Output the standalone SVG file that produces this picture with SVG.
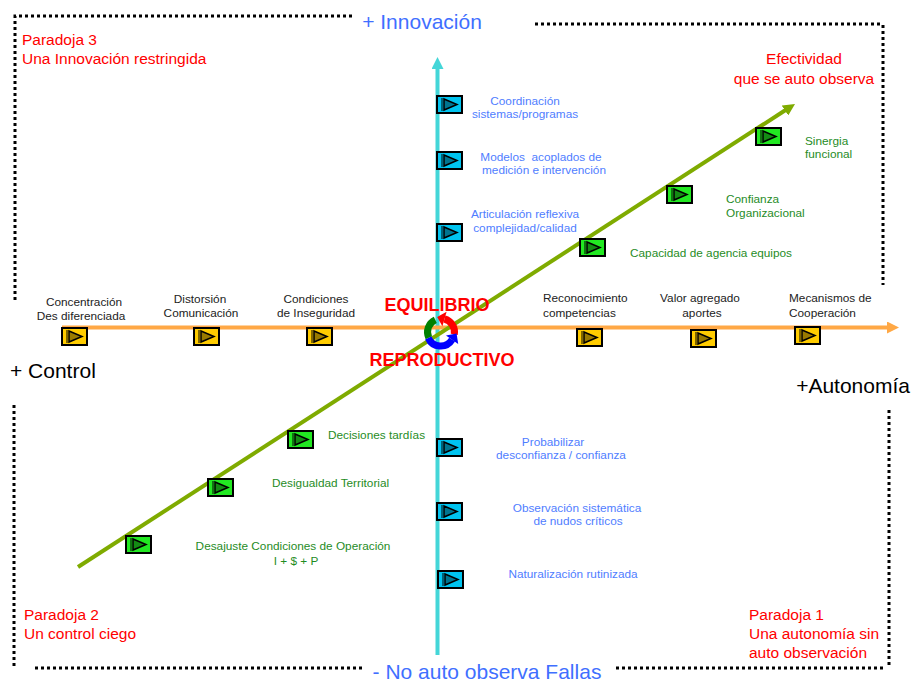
<svg xmlns="http://www.w3.org/2000/svg" width="912" height="683" viewBox="0 0 912 683">
<style>
text{font-family:"Liberation Sans",Arial,sans-serif}
.ax{font-size:21px}
.red{fill:#ff0000;font-size:15.5px}
.bl{fill:#4f7dff;font-size:11.8px;text-anchor:middle}
.bk{fill:#222;font-size:11.8px;text-anchor:middle}
.bks{fill:#222;font-size:11.8px;text-anchor:start}
.gr{fill:#1f8c1f;font-size:11.8px}
.grm{fill:#1f8c1f;font-size:11.8px;text-anchor:middle}
.dot{stroke:#000;stroke-width:3;stroke-dasharray:3 3;fill:none}
.eq{fill:#ff0000;font-size:18px;font-weight:bold;text-anchor:middle}
</style>
<defs>
<symbol id="ic" viewBox="0 0 25 17" width="25" height="17" overflow="visible">
<rect x="0" y="0" width="25" height="17" stroke="#000" stroke-width="2"/>
<line x1="5" y1="2" x2="5" y2="15" stroke="#000" stroke-width="1"/>
<polygon points="7,3 20,8.5 7,14" fill="#000" fill-opacity="0.4" stroke="#000" stroke-width="1.5"/>
</symbol>
<marker id="mc" viewBox="0 0 12 12" markerWidth="12" markerHeight="12" markerUnits="userSpaceOnUse" refX="4" refY="6" orient="auto"><path d="M0,0L12,6L0,12z" fill="#44d6d8"/></marker>
<marker id="mo" viewBox="0 0 12 12" markerWidth="12" markerHeight="12" markerUnits="userSpaceOnUse" refX="4" refY="6" orient="auto"><path d="M0,0L12,6L0,12z" fill="#ffa845"/></marker>
<marker id="mg" viewBox="0 0 12 12" markerWidth="12" markerHeight="12" markerUnits="userSpaceOnUse" refX="4" refY="6" orient="auto"><path d="M0,0L12,6L0,12z" fill="#7fab00"/></marker>
</defs>
<rect width="912" height="683" fill="#fff"/>

<g id="borders">
<path class="dot" d="M352,16H15V300"/>
<path class="dot" d="M535,24H880M883,25V285"/>
<path class="dot" d="M14,405V668M35,668H363"/>
<path class="dot" d="M616,668H886M889,410V668"/>
</g>

<g id="axis-labels">
<text class="ax" x="422" y="29" text-anchor="middle" fill="#3f6fff">+ Innovación</text>
<text class="ax" x="10" y="378" fill="#000">+ Control</text>
<text class="ax" x="910" y="393" text-anchor="end" fill="#000">+Autonomía</text>
<text class="ax" x="487" y="679" text-anchor="middle" fill="#3f6fff">- No auto observa Fallas</text>
</g>

<g id="paradoxes">
<text class="red" x="22" y="45" font-size="16.5">Paradoja 3</text>
<text class="red" x="22" y="64" font-size="16.5">Una Innovación restringida</text>
<text class="red" x="804" y="64" text-anchor="middle" font-size="16">Efectividad</text>
<text class="red" x="804" y="84" text-anchor="middle" font-size="16">que se auto observa</text>
<text class="red" x="24" y="620">Paradoja 2</text>
<text class="red" x="24" y="639">Un control ciego</text>
<text class="red" x="749" y="620">Paradoja 1</text>
<text class="red" x="749" y="639">Una autonomía sin</text>
<text class="red" x="749" y="658">auto observación</text>
</g>

<g id="connectors">
<line x1="437.5" y1="655" x2="437.5" y2="65" stroke="#44d6d8" stroke-width="4" marker-end="url(#mc)"/>
<line x1="62" y1="327.5" x2="891" y2="327.5" stroke="#ffa845" stroke-width="4" marker-end="url(#mo)"/>
<line x1="78" y1="567" x2="788.3" y2="108.3" stroke="#7fab00" stroke-width="4" marker-end="url(#mg)"/>
</g>

<g id="center">
<path d="M435.3,319.8A13.5,13.5 0 0 0 428.8,337.7" fill="none" stroke="#008000" stroke-width="7"/>
<path d="M454.3,334.3A13.5,13.5 0 0 0 444.5,319" fill="none" stroke="#ff0000" stroke-width="7"/>
<polygon points="437.2,317 446.6,311.8 442.4,326.2" fill="#ff0000"/>
<path d="M428.3,338A13.5,13.5 0 0 0 452.1,339.7" fill="none" stroke="#0000ff" stroke-width="7"/>
<polygon points="456.6,333.4 458.2,344 446,335.4" fill="#0000ff"/>
<text class="eq" x="437" y="311">EQUILIBRIO</text>
<text class="eq" x="442" y="366">REPRODUCTIVO</text>
</g>

<g id="n-coordinacion" fill="#00c4f0">
<use href="#ic" x="437" y="96"/>
<text class="bl" x="525" y="105">Coordinación</text>
<text class="bl" x="525" y="118">sistemas/programas</text>
</g>
<g id="n-modelos" fill="#00c4f0">
<use href="#ic" x="437" y="152"/>
<text class="bl" x="541" y="161" xml:space="preserve">Modelos  acoplados de</text>
<text class="bl" x="544" y="174">medición e intervención</text>
</g>
<g id="n-articulacion" fill="#00c4f0">
<use href="#ic" x="437" y="224"/>
<text class="bl" x="525" y="218">Articulación reflexiva</text>
<text class="bl" x="525" y="232">complejidad/calidad</text>
</g>
<g id="n-probabilizar" fill="#00c4f0">
<use href="#ic" x="437" y="439"/>
<text class="bl" x="553" y="446">Probabilizar</text>
<text class="bl" x="561" y="459">desconfianza / confianza</text>
</g>
<g id="n-observacion" fill="#00c4f0">
<use href="#ic" x="437" y="503"/>
<text class="bl" x="577" y="512">Observación sistemática</text>
<text class="bl" x="578" y="525">de nudos críticos</text>
</g>
<g id="n-naturalizacion" fill="#00c4f0">
<use href="#ic" x="438" y="571"/>
<text class="bl" x="573" y="578">Naturalización rutinizada</text>
</g>

<g id="n-concentracion" fill="#ffcc00">
<use href="#ic" x="62" y="328"/>
<text class="bk" x="84" y="306">Concentración</text>
<text class="bk" x="81" y="320">Des diferenciada</text>
</g>
<g id="n-distorsion" fill="#ffcc00">
<use href="#ic" x="194" y="328"/>
<text class="bk" x="200" y="303">Distorsión</text>
<text class="bk" x="201" y="317">Comunicación</text>
</g>
<g id="n-condiciones" fill="#ffcc00">
<use href="#ic" x="307" y="328"/>
<text class="bk" x="316" y="303">Condiciones</text>
<text class="bk" x="316" y="317">de Inseguridad</text>
</g>
<g id="n-reconocimiento" fill="#ffcc00">
<use href="#ic" x="577" y="329"/>
<text class="bks" x="543" y="302">Reconocimiento</text>
<text class="bks" x="543" y="317">competencias</text>
</g>
<g id="n-valor" fill="#ffcc00">
<use href="#ic" x="691" y="330"/>
<text class="bk" x="700" y="302">Valor agregado</text>
<text class="bk" x="702" y="317">aportes</text>
</g>
<g id="n-mecanismos" fill="#ffcc00">
<use href="#ic" x="795" y="327"/>
<text class="bks" x="789" y="302">Mecanismos de</text>
<text class="bks" x="789" y="317">Cooperación</text>
</g>

<g id="n-sinergia" fill="#22e822">
<use href="#ic" x="756" y="128"/>
<text class="gr" x="805" y="145">Sinergia</text>
<text class="gr" x="805" y="158">funcional</text>
</g>
<g id="n-confianza" fill="#22e822">
<use href="#ic" x="667" y="186"/>
<text class="gr" x="726" y="203">Confianza</text>
<text class="gr" x="726" y="217">Organizacional</text>
</g>
<g id="n-capacidad" fill="#22e822">
<use href="#ic" x="580" y="239"/>
<text class="gr" x="630" y="257">Capacidad de agencia equipos</text>
</g>
<g id="n-decisiones" fill="#22e822">
<use href="#ic" x="288" y="431"/>
<text class="gr" x="328" y="439">Decisiones tardías</text>
</g>
<g id="n-desigualdad" fill="#22e822">
<use href="#ic" x="208" y="479"/>
<text class="gr" x="272" y="487">Desigualdad Territorial</text>
</g>
<g id="n-desajuste" fill="#22e822">
<use href="#ic" x="126" y="536"/>
<text class="grm" x="293" y="550">Desajuste Condiciones de Operación</text>
<text class="grm" x="296" y="565">I + $ + P</text>
</g>
</svg>
